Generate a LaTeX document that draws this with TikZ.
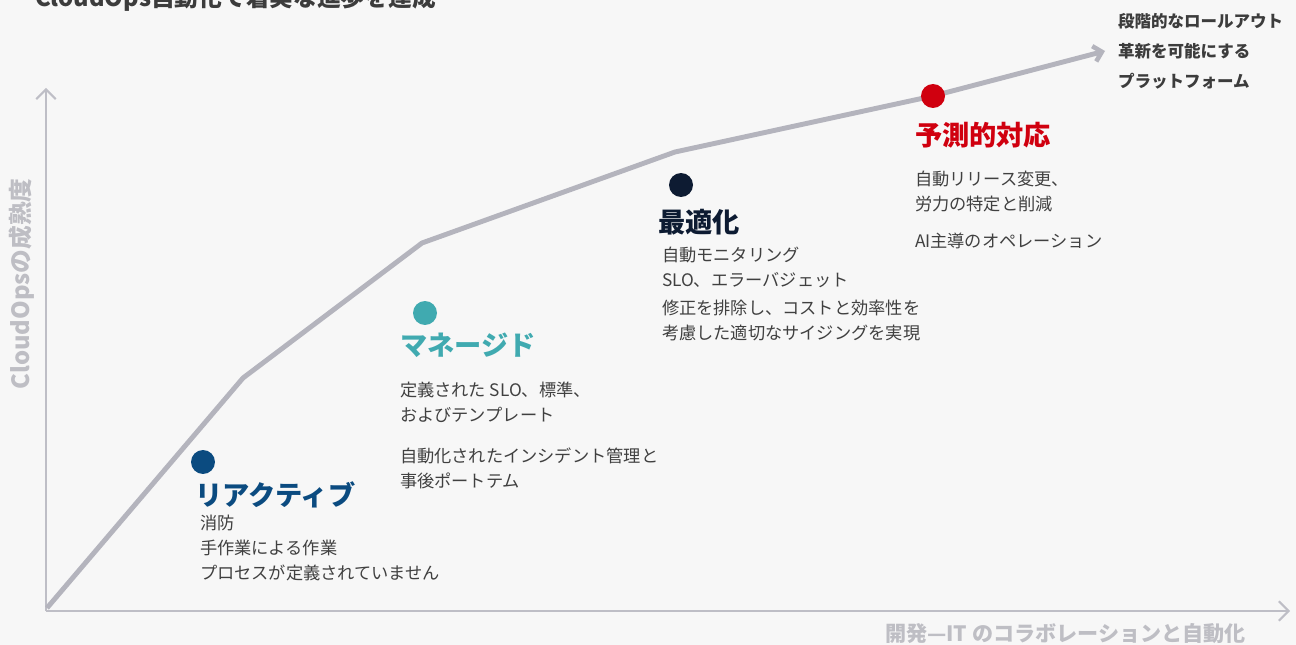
\documentclass[tikz,border=0pt]{standalone}
\usepackage{fontspec}
\setmainfont{Noto Sans CJK JP}
\usepackage{xcolor}
\usepackage{tikz}
\usetikzlibrary{arrows.meta, positioning}

\begin{document}
\begin{tikzpicture}[
    x=0.02cm, y=-0.02cm,
    every node/.style={inner sep=0pt, outer sep=0pt, align=left},
    axisline/.style={draw=axisGray, line width=1.2pt,
      -{Straight Barb[length=5.5pt, width=11pt, line width=1.2pt]}},
    growth/.style={draw=curveGray, line width=2.8pt,
      -{Straight Barb[length=4.5pt, width=9pt, line width=2.6pt]}},
    dot/.style={circle, minimum size=0.48cm},
    stagetitle/.style={font=\bfseries\fontsize{15.5}{19}\selectfont, anchor=west},
    body/.style={font=\fontsize{9.8}{14.2}\selectfont, text=bodyGray, anchor=north west},
    axislabel/.style={font=\bfseries\fontsize{12}{14}\selectfont, text=labelGray}
  ]
    \definecolor{bgGray}{RGB}{247,247,247}
    \definecolor{axisGray}{RGB}{190,190,198}
    \definecolor{curveGray}{RGB}{180,180,189}
    \definecolor{labelGray}{RGB}{190,190,196}
    \definecolor{bodyGray}{RGB}{64,64,64}
    \definecolor{headGray}{RGB}{60,60,60}
    \definecolor{reactBlue}{RGB}{11,75,128}
    \definecolor{manageTeal}{RGB}{64,170,176}
    \definecolor{optNavy}{RGB}{13,27,50}
    \definecolor{predRed}{RGB}{208,0,15}

    % background
    \fill[bgGray] (0,0) rectangle (1296,645);
    \useasboundingbox (0,0) rectangle (1296,645);

    % heading (cut at the top edge)
    \node[font=\bfseries\fontsize{13.5}{16}\selectfont, text=headGray, anchor=west] (heading)
      at (35,-1) {CloudOps自動化で着実な進歩を達成};

    % axes
    \coordinate (origin) at (46,611);
    \coordinate (ytop) at (46,88);
    \coordinate (xend) at (1290,611);
    \draw[axisline] (origin) -- (ytop);
    \draw[axisline] (origin) -- (xend);
    \node[axislabel, font=\bfseries\fontsize{13.5}{16}\selectfont, rotate=90] (ylab) at (22,284) {CloudOpsの成熟度};
    \node[axislabel, anchor=west] (xlab) at (885,634) {開発—IT のコラボレーションと自動化};

    % growth curve
    \coordinate (c0) at (47,608);
    \coordinate (c1) at (243,378);
    \coordinate (c2) at (422,243);
    \coordinate (c3) at (675,152);
    \coordinate (c4) at (933,96);
    \coordinate (c5) at (1105,51);
    \draw[growth, line join=round] (c0) -- (c1) -- (c2) -- (c3) -- (c4) -- (c5);

    \node[font=\bfseries\fontsize{9.4}{17.2}\selectfont, text=headGray, anchor=north west] (goal)
      at (1118,13) {段階的なロールアウト\\革新を可能にする\\プラットフォーム};

    % stage 1
    \node[dot, fill=reactBlue] (dReact) at (203,462) {};
    \node[stagetitle, text=reactBlue] (tReact) at (195,495) {リアクティブ};
    \node[body] (bReact) at (200,515) {消防\\手作業による作業\\プロセスが定義されていません};

    % stage 2
    \node[dot, fill=manageTeal] (dManage) at (425,313) {};
    \node[stagetitle, text=manageTeal] (tManage) at (400,345) {マネージド};
    \node[body] (bManage1) at (400,382) {定義された SLO、標準、\\およびテンプレート};
    \node[body] (bManage2) at (400,448) {自動化されたインシデント管理と\\事後ポートテム};

    % stage 3
    \node[dot, fill=optNavy] (dOpt) at (681,185) {};
    \node[stagetitle, text=optNavy] (tOpt) at (658,222) {最適化};
    \node[body] (bOpt1) at (662,247) {自動モニタリング\\SLO、エラーバジェット};
    \node[body] (bOpt2) at (662,300) {修正を排除し、コストと効率性を\\考慮した適切なサイジングを実現};

    % stage 4
    \node[dot, fill=predRed] (dPred) at (933,96) {};
    \node[stagetitle, text=predRed] (tPred) at (915,135) {予測的対応};
    \node[body] (bPred1) at (915,171) {自動リリース変更、\\労力の特定と削減};
    \node[body] (bPred2) at (915,233) {AI主導のオペレーション};
  \end{tikzpicture}
\end{document}
